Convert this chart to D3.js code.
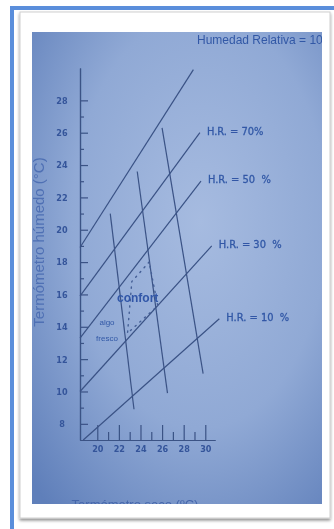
<!DOCTYPE html>
<html>
<head>
<meta charset="utf-8">
<script src="https://cdn.jsdelivr.net/npm/d3@7"></script>
<style>
  body { margin: 0; background: #ffffff; }
  svg { display: block; }
</style>
</head>
<body>
<script>
// values (dry bulb, wet bulb in °C)
var yMajor = [8, 10, 12, 14, 16, 18, 20, 22, 24, 26, 28];
var yMinor = [9, 11, 13, 15, 17, 19, 21, 23, 25, 27];
var xMajor = [20, 22, 24, 26, 28, 30];
var xMinor = [21, 23, 25, 27, 29];

// relative humidity lines: [start, end] as [dry, wet]
var hrNames = ["100", "70", "50", "30", "10"];
var hrLabels = ["Humedad Relativa = 100", "H.R. = 70%", "H.R. = 50  %", "H.R. = 30  %", "H.R. = 10  %"];
var hrLines = [
    [[18.4, 18.9], [28.9, 29.9]],
    [[18.4, 15.9], [29.5, 26.0]],
    [[18.4, 13.3], [29.6, 23.0]],
    [[18.4, 10.0], [30.6, 19.0]],
    [[18.7, 7.0], [31.3, 14.5]]
];

// steep lines (effective temperature)
var etLines = [
    [[21.2, 21.0], [23.4, 8.9]],
    [[23.7, 23.6], [26.5, 9.9]],
    [[26.0, 26.3], [29.8, 11.1]]
];

// dotted comfort zone outline
var comfortZone = [[24.8, 18.0], [23.2, 16.8], [22.8, 13.6], [25.6, 15.3], [24.8, 18.0]];

var width = 334,
    height = 529;

var svg = d3.select("body")
    .append("svg")
    .attr("width", width)
    .attr("height", height);

var defs = svg.append("defs");

var grad = defs.append("radialGradient")
    .attr("id", "photo")
    .attr("cx", "58%").attr("cy", "40%").attr("r", "80%");
grad.append("stop").attr("offset", "0").attr("stop-color", "#a6bbe0");
grad.append("stop").attr("offset", "0.55").attr("stop-color", "#90a9d5");
grad.append("stop").attr("offset", "1").attr("stop-color", "#5f7fba");

defs.append("clipPath").attr("id", "clip")
    .append("rect").attr("x", 32).attr("y", 32).attr("width", 290).attr("height", 472);

var shadow = defs.append("filter").attr("id", "shadow")
    .attr("x", "-5%").attr("y", "-5%").attr("width", "110%").attr("height", "110%");
shadow.append("feDropShadow")
    .attr("dx", 0).attr("dy", 2).attr("stdDeviation", 1.5)
    .attr("flood-color", "#000").attr("flood-opacity", 0.45);

var soft = defs.append("filter").attr("id", "soft");
soft.append("feGaussianBlur").attr("stdDeviation", 0.45);

//blue frame
svg.append("rect").attr("x", 10).attr("y", 6).attr("width", 4).attr("height", height - 6).attr("fill", "#5a8edb");
svg.append("rect").attr("x", 10).attr("y", 6).attr("width", width - 10).attr("height", 4).attr("fill", "#5a8edb");

//white card
svg.append("rect")
    .attr("x", 20).attr("y", 12)
    .attr("width", 310).attr("height", 506)
    .attr("fill", "#fff")
    .attr("stroke", "#cfcfcf")
    .attr("filter", "url(#shadow)");

//photo background
var photo = svg.append("g").attr("clip-path", "url(#clip)");
photo.append("rect")
    .attr("x", 32).attr("y", 32).attr("width", 290).attr("height", 472)
    .attr("fill", "url(#photo)");

var g = photo.append("g").attr("filter", "url(#soft)");

var x = d3.scaleLinear().domain([18.4, 30.9]).range([80, 215]);
var y = d3.scaleLinear().domain([7, 30]).range([440, 68]);

var ink = "#3a5285",
    textInk = "#3258a6",
    narrow = "'Liberation Sans Narrow', 'DejaVu Sans Condensed', sans-serif";

//axes
var yAxis = g.append("g").attr("transform", "translate(80,0)")
    .call(d3.axisLeft(y).tickValues(yMajor).tickSize(-8).tickSizeOuter(0).tickPadding(14));
g.append("g").attr("transform", "translate(80,0)")
    .call(d3.axisLeft(y).tickValues(yMinor).tickSize(-4).tickSizeOuter(0).tickFormat(""));

var xAxis = g.append("g").attr("transform", "translate(0,440)")
    .call(d3.axisBottom(x).tickValues(xMajor).tickSize(-15).tickSizeOuter(0).tickPadding(6));
g.append("g").attr("transform", "translate(0,440)")
    .call(d3.axisBottom(x).tickValues(xMinor).tickSize(-8).tickSizeOuter(0).tickFormat(""));

g.selectAll(".domain, .tick line").attr("stroke", ink).attr("stroke-width", 1.2);
g.selectAll(".tick text")
    .attr("fill", "#34549a")
    .attr("font-family", narrow)
    .attr("font-weight", "bold")
    .attr("font-size", 9);
yAxis.selectAll(".tick text").attr("text-anchor", "middle").attr("x", -18);

var line = d3.line()
    .x(function(d){ return x(d[0]); })
    .y(function(d){ return y(d[1]); });

//humidity lines
g.selectAll(".hr")
    .data(hrLines)
    .enter()
    .append("path")
    .attr("class", "hr")
    .attr("d", line)
    .attr("fill", "none")
    .attr("stroke", ink)
    .attr("stroke-width", 1.2);

//effective temperature lines
g.selectAll(".et")
    .data(etLines)
    .enter()
    .append("path")
    .attr("class", "et")
    .attr("d", line)
    .attr("fill", "none")
    .attr("stroke", ink)
    .attr("stroke-width", 1.2);

g.append("path")
    .datum(comfortZone)
    .attr("d", line)
    .attr("fill", "none")
    .attr("stroke", "#445f96")
    .attr("stroke-width", 1.4)
    .attr("stroke-dasharray", "1.3,5")
    .attr("stroke-linecap", "round");

//humidity labels next to the line ends
g.selectAll(".hrLabel")
    .data(hrLines.slice(1))
    .enter()
    .append("text")
    .attr("class", "hrLabel")
    .attr("x", function(d){ return x(d[1][0]) + 7; })
    .attr("y", function(d){ return y(d[1][1]) + 2; })
    .attr("font-family", narrow)
    .attr("font-size", 11)
    .attr("fill", textInk)
    .attr("stroke", textInk)
    .attr("stroke-width", 0.3)
    .style("white-space", "pre")
    .text(function(d, i){ return hrLabels[i + 1]; });

g.append("text")
    .attr("x", 197).attr("y", 44)
    .attr("font-family", "'Liberation Sans', sans-serif")
    .attr("font-size", 12)
    .attr("fill", textInk)
    .text(hrLabels[0]);

g.append("text")
    .attr("x", 117).attr("y", 302)
    .attr("font-family", "'Liberation Sans', sans-serif")
    .attr("font-weight", "bold")
    .attr("font-size", 12)
    .attr("fill", "#3157a8")
    .text("confort");

g.append("text")
    .attr("x", 107).attr("y", 325)
    .attr("text-anchor", "middle")
    .attr("font-family", "'Liberation Sans', sans-serif")
    .attr("font-size", 8)
    .attr("fill", textInk)
    .text("algo");

g.append("text")
    .attr("x", 107).attr("y", 341)
    .attr("text-anchor", "middle")
    .attr("font-family", "'Liberation Sans', sans-serif")
    .attr("font-size", 8)
    .attr("fill", textInk)
    .text("fresco");

//axis titles
g.append("text")
    .attr("transform", "translate(44,242) rotate(-90)")
    .attr("text-anchor", "middle")
    .attr("font-family", "'Liberation Sans', sans-serif")
    .attr("font-size", 15)
    .attr("fill", "#4f70b4")
    .text("Termómetro húmedo (°C)");

g.append("text")
    .attr("x", 135).attr("y", 509)
    .attr("text-anchor", "middle")
    .attr("font-family", "'Liberation Sans', sans-serif")
    .attr("font-size", 13)
    .attr("fill", "#4566ab")
    .text("Termómetro seco (ºC)");
</script>
</body>
</html>
